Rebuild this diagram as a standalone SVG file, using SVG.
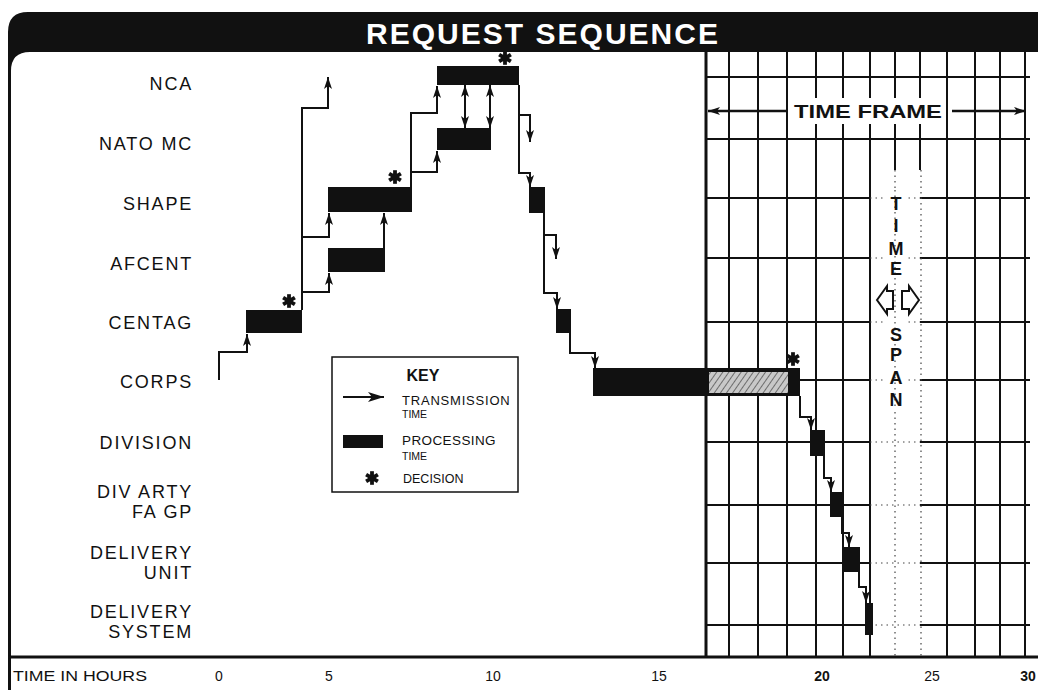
<svg xmlns="http://www.w3.org/2000/svg" width="1038" height="690" viewBox="0 0 1038 690">
<defs>
<style>
.lbl{font-family:"Liberation Sans",Arial,sans-serif;font-size:18px;fill:#111;text-anchor:end;letter-spacing:1.8px}
.tx{fill:none;stroke:#111;stroke-width:2}
.txa{fill:none;stroke:#111;stroke-width:2;marker-end:url(#ah)}
.bar{fill:#111}
.grid{stroke:#111;stroke-width:2}
.dot{stroke:#444;stroke-width:1.2;stroke-dasharray:1.5 4}
.ax{font-family:"Liberation Sans",Arial,sans-serif;font-size:14px;fill:#111;text-anchor:middle}
.key{font-family:"Liberation Sans",Arial,sans-serif;fill:#111}
.big{font-family:"Liberation Sans",Arial,sans-serif;font-weight:bold;fill:#111;font-size:18px;text-anchor:middle}
</style>
<marker id="ah" viewBox="0 0 12 8" refX="12" refY="4" markerWidth="12" markerHeight="8" markerUnits="userSpaceOnUse" orient="auto-start-reverse">
<path d="M0,0 L12,4 L0,8 L3,4 z" fill="#111"/>
</marker>
<marker id="ahk" viewBox="0 0 16 10" refX="16" refY="5" markerWidth="16" markerHeight="10" markerUnits="userSpaceOnUse" orient="auto">
<path d="M0,0 L16,5 L0,10 L4,5 z" fill="#111"/>
</marker>
<g id="star" fill="#111">
<rect x="-1.9" y="-6.8" width="3.8" height="13.6"/>
<rect x="-1.9" y="-6.8" width="3.8" height="13.6" transform="rotate(60)"/>
<rect x="-1.9" y="-6.8" width="3.8" height="13.6" transform="rotate(120)"/>
<circle r="3.4"/>
</g>
<pattern id="hatch" width="5" height="5" patternUnits="userSpaceOnUse" patternTransform="rotate(35)">
<rect width="5" height="5" fill="#c8c8c8"/>
<line x1="0" y1="0" x2="0" y2="5" stroke="#555" stroke-width="1.6"/>
</pattern>
</defs>

<rect width="1038" height="690" fill="#fff"/>

<!-- frame and header -->
<g id="frame">
<path d="M8,32 Q8,12 28,12 H1038 V52 H30 Q11,52 11,71 V690 H8 Z" fill="#111"/>
<text x="542" y="44" font-family="Liberation Sans,Arial,sans-serif" font-size="30" font-weight="bold" fill="#fff" text-anchor="middle" textLength="352" lengthAdjust="spacing">REQUEST SEQUENCE</text>
<line x1="8" y1="657" x2="1038" y2="657" stroke="#111" stroke-width="3"/>
</g>

<!-- time frame grid -->
<g id="grid">
<line x1="706" y1="52" x2="706" y2="657" stroke="#111" stroke-width="3"/>
<g class="grid">
<line x1="729" y1="52" x2="729" y2="657"/>
<line x1="758" y1="52" x2="758" y2="657"/>
<line x1="787" y1="52" x2="787" y2="657"/>
<line x1="816" y1="52" x2="816" y2="657"/>
<line x1="843" y1="52" x2="843" y2="657"/>
<line x1="870" y1="52" x2="870" y2="657"/>
<line x1="895" y1="52" x2="895" y2="170"/>
<line x1="920" y1="52" x2="920" y2="170"/>
<line x1="947" y1="52" x2="947" y2="657"/>
<line x1="975" y1="52" x2="975" y2="657"/>
<line x1="1000" y1="52" x2="1000" y2="657"/>
<line x1="1025" y1="52" x2="1025" y2="657"/>
<line x1="706" y1="77" x2="1030" y2="77"/>
<line x1="706" y1="139" x2="1030" y2="139"/>
<path d="M706,198H870M920,198H1030M706,258H870M920,258H1030M706,322H870M920,322H1030M706,380H870M920,380H1030M706,442H870M920,442H1030M706,505H870M920,505H1030M706,563H870M920,563H1030M706,625H870M920,625H1030"/>
</g>
<g class="dot">
<line x1="895" y1="170" x2="895" y2="657"/>
<line x1="921" y1="170" x2="921" y2="657"/>
<path d="M870,198H920M870,258H920M870,322H920M870,380H920M870,442H920M870,505H920M870,563H920M870,625H920"/>
</g>
</g>

<g id="time-frame">
<rect x="790" y="98" width="156" height="26" fill="#fff"/>
<line x1="786" y1="111" x2="708" y2="111" stroke="#111" stroke-width="2.5" marker-end="url(#ah)"/>
<line x1="952" y1="111" x2="1026" y2="111" stroke="#111" stroke-width="2.5" marker-end="url(#ah)"/>
<text x="868" y="118" class="big" font-size="19" textLength="148" lengthAdjust="spacingAndGlyphs">TIME FRAME</text>
</g>

<g id="time-span">
<rect x="884" y="190" width="24" height="220" fill="#fff"/>
<line x1="895" y1="190" x2="895" y2="410" class="dot"/>
<text class="big" font-size="17" x="896" y="210">T</text>
<text class="big" font-size="17" x="896" y="232">I</text>
<text class="big" font-size="17" x="896" y="255">M</text>
<text class="big" font-size="17" x="896" y="275">E</text>
<path d="M877,300 L887,286 L887,291 L893,291 L893,309 L887,309 L887,314 Z" fill="#fff" stroke="#111" stroke-width="2"/>
<path d="M919,300 L909,286 L909,291 L902,291 L902,309 L909,309 L909,314 Z" fill="#fff" stroke="#111" stroke-width="2"/>
<text class="big" font-size="17" x="896" y="341">S</text>
<text class="big" font-size="17" x="896" y="361">P</text>
<text class="big" font-size="17" x="896" y="384">A</text>
<text class="big" font-size="17" x="896" y="406">N</text>
</g>

<!-- row labels -->
<g id="labels">
<text class="lbl" x="193" y="90">NCA</text>
<text class="lbl" x="193" y="150">NATO MC</text>
<text class="lbl" x="193" y="210">SHAPE</text>
<text class="lbl" x="193" y="270">AFCENT</text>
<text class="lbl" x="193" y="329">CENTAG</text>
<text class="lbl" x="193" y="388">CORPS</text>
<text class="lbl" x="193" y="449">DIVISION</text>
<text class="lbl" x="193" y="498">DIV ARTY</text>
<text class="lbl" x="193" y="518">FA GP</text>
<text class="lbl" x="193" y="559">DELIVERY</text>
<text class="lbl" x="193" y="579">UNIT</text>
<text class="lbl" x="193" y="618">DELIVERY</text>
<text class="lbl" x="193" y="638">SYSTEM</text>
</g>

<!-- connectors -->
<g id="connectors">
<path class="txa" d="M219,380 V352 H247 V334"/>
<path class="txa" d="M302,310 V108 H328 V77"/>
<path class="txa" d="M302,237 H329 V213"/>
<path class="txa" d="M302,292 H329 V273"/>
<path class="txa" d="M384,248 V213"/>
<path class="txa" d="M411,187 V113 H437 V86"/>
<path class="txa" d="M411,172 H437 V151"/>
<path class="tx" d="M465,128 V85" marker-start="url(#ah)" marker-end="url(#ah)"/>
<path class="tx" d="M490,128 V85" marker-start="url(#ah)" marker-end="url(#ah)"/>
<path class="txa" d="M519,85 V115 H530 V142"/>
<path class="txa" d="M519,115 V173 H530 V187"/>
<path class="txa" d="M544,213 V235 H556 V259"/>
<path class="txa" d="M544,235 V293 H557 V309"/>
<path class="txa" d="M570,333 V353 H595 V368"/>
<path class="txa" d="M800,396 V417 H811 V430"/>
<path class="txa" d="M824,456 V478 H831 V492"/>
<path class="txa" d="M842,517 V533 H849 V547"/>
<path class="txa" d="M859,572 V587 H866 V603"/>
</g>

<!-- processing bars -->
<g id="centag-bar"><rect class="bar" x="246" y="310" width="56" height="23"/><use href="#star" x="289" y="301"/></g>
<g id="afcent-bar"><rect class="bar" x="328" y="248" width="57" height="24"/></g>
<g id="shape-bar"><rect class="bar" x="328" y="187" width="84" height="25"/><use href="#star" x="395" y="177"/></g>
<g id="natomc-bar"><rect class="bar" x="437" y="128" width="54" height="22"/></g>
<g id="nca-bar"><rect class="bar" x="437" y="66" width="82" height="19"/><use href="#star" x="505" y="58"/></g>
<g id="shape-bar-2"><rect class="bar" x="529" y="187" width="16" height="26"/></g>
<g id="centag-bar-2"><rect class="bar" x="556" y="309" width="15" height="24"/></g>
<g id="corps-bar">
<rect class="bar" x="593" y="368" width="207" height="28"/>
<rect x="709" y="372" width="79" height="21" fill="url(#hatch)"/>
<use href="#star" x="793" y="359"/>
</g>
<g id="division-bar"><rect class="bar" x="810" y="430" width="15" height="26"/></g>
<g id="divarty-bar"><rect class="bar" x="830" y="492" width="12" height="25"/></g>
<g id="delivery-unit-bar"><rect class="bar" x="844" y="547" width="16" height="25"/></g>
<g id="delivery-system-bar"><rect class="bar" x="865" y="603" width="8" height="32"/></g>

<!-- key -->
<g id="key">
<rect x="332" y="357" width="186" height="135" fill="#fff" stroke="#111" stroke-width="1.5"/>
<text class="key" x="423" y="381" font-size="16" font-weight="bold" text-anchor="middle">KEY</text>
<line x1="343" y1="397" x2="384" y2="397" stroke="#111" stroke-width="2" marker-end="url(#ahk)"/>
<text class="key" x="402" y="405" font-size="13" letter-spacing="0.8">TRANSMISSION</text>
<text class="key" x="402" y="418" font-size="10.5">TIME</text>
<rect class="bar" x="343" y="435" width="40" height="13"/>
<text class="key" x="402" y="445" font-size="13.5" letter-spacing="0.4">PROCESSING</text>
<text class="key" x="402" y="460" font-size="10.5">TIME</text>
<use href="#star" x="372" y="478"/>
<text class="key" x="403" y="483" font-size="12.5">DECISION</text>
</g>

<!-- axis -->
<g id="axis">
<text class="ax" x="80" y="681" textLength="134" lengthAdjust="spacingAndGlyphs">TIME IN HOURS</text>
<text class="ax" x="219" y="681">0</text>
<text class="ax" x="329" y="681">5</text>
<text class="ax" x="493" y="681">10</text>
<text class="ax" x="659" y="681">15</text>
<text class="ax" x="822" y="681" font-weight="bold">20</text>
<text class="ax" x="932" y="681">25</text>
<text class="ax" x="1028" y="681" font-weight="bold">30</text>
</g>
</svg>
